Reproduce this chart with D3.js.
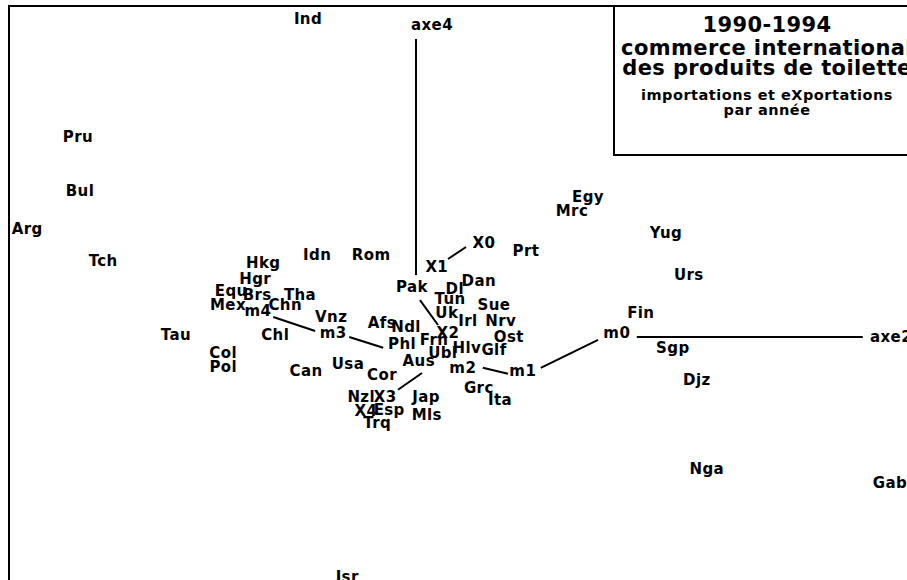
<!DOCTYPE html>
<html lang="fr">
  <head>
    <meta charset="utf-8">
    <title>commerce international des produits de toilette</title>
    <style>
      body { margin: 0; background: #fff; }
      svg text { font-family: "DejaVu Sans", sans-serif; font-weight: bold; fill: #000; }
    </style>
  </head>
  <body>
      <svg></svg>
      <script src="https://d3js.org/d3.v7.min.js"></script>
      <script type="text/javascript">
        // labels of the plane (axe2 x axe4), coordinates
        var countries = ["Ind","Pru","Bul","Arg","Tch","Hkg","Hgr","Equ","Brs","Mex","Chn","Tha","Tau","Chl",
                         "Col","Pol","Can","Idn","Rom","Vnz","Afs","Ndl","Phl","Pak","Prt","Egy","Mrc","Dl","Dan",
                         "Tun","Sue","Uk","Irl","Nrv","Frn","Ost","Ubl","Hlv","Glf","Aus","Usa","Cor","Grc","Ita",
                         "Nzl","Jap","Esp","Mls","Trq","Yug","Urs","Fin","Sgp","Djz","Nga","Gab","Isr"];
        var countryX = [-27,-84.5,-84,-97.2,-78.2,-38.2,-40.2,-46.2,-39.7,-47,-32.7,-29,-60,-35.2,
                        -48.2,-48.2,-27.5,-24.7,-11.2,-21.2,-8.5,-2.5,-3.5,-1,27.5,43,39,9.7,15.7,
                        8.5,19.5,7.7,13,21.2,4.5,23.2,6.7,12.7,19.5,0.7,-17,-8.5,15.7,21,
                        -13.7,2.5,-6.7,2.7,-9.7,62.5,68.2,56.2,64.2,70.2,72.7,118.5,-17.2];
        var countryY = [79.5,50,36.5,27.2,19.2,18.5,14.7,11.7,10.7,8,8,10.7,0.7,0.7,
                        -4,-7.5,-8.5,20.7,20.7,5,3.7,2.7,-1.7,12.5,21.7,35.2,31.7,12,14,
                        9.5,8,6,4.2,4.2,-0.7,0,-4,-2.7,-3.2,-6,-6.7,-9.5,-12.7,-15.7,
                        -15,-15,-18.2,-19.5,-21.5,26,15.5,6.2,-2.7,-10.7,-33,-36.5,-60];

        // yearly points: imports (m) and exports (X)
        var years = ["m0","m1","m2","m3","m4","X0","X1","X2","X3","X4"];
        var yearX = [50.2,26.7,11.7,-20.7,-39.5,17,5.2,8,-7.7,-12.5];
        var yearY = [1,-8.5,-7.7,1,6.7,23.7,17.5,1,-15,-18.5];

        // visible trajectory pieces [x1, y1, x2, y2]
        var trajectory = [
          [45.5,-0.7,31.2,-7.7],
          [23,-9.2,16.7,-7.7],
          [-8.2,-2.7,-16.7,0],
          [-25.2,1.5,-35.7,5],
          [12.5,22.5,8,19.5],
          [1,9.2,5.5,3],
          [1.5,-9,-4.5,-13.2]
        ];

        // axes
        var axisNames = ["axe2","axe4"];
        var axisLines = [[55.2,0,111.7,0],[0,74.5,0,15.5]];
        var axisLabelX = [113.5,4];
        var axisLabelY = [0,78.2];

        var titleLines = ["1990-1994","commerce international","des produits de toilette",
                          "importations et eXportations","par année"];

        var width = 907, height = 580;
        var svg = d3.select("svg")
              .attr("width", width)
              .attr("height", height);

        var x = d3.scaleLinear().domain([-100, 100]).range([16, 816]);
        var y = d3.scaleLinear().domain([-100, 100]).range([737, -63]);

        // frame
        svg.append("line").attr("x1", 8).attr("y1", 6).attr("x2", width).attr("y2", 6)
           .style("stroke", "black").style("stroke-width", 2);
        svg.append("line").attr("x1", 9).attr("y1", 6).attr("x2", 9).attr("y2", height)
           .style("stroke", "black").style("stroke-width", 2);

        var segs = axisLines.concat(trajectory);
        svg.selectAll("line.seg")
           .data(segs)
           .enter()
           .append("line")
           .attr("class", "seg")
           .attr("x1", function(d){return x(d[0]);})
           .attr("y1", function(d){return y(d[1]);})
           .attr("x2", function(d){return x(d[2]);})
           .attr("y2", function(d){return y(d[3]);})
           .style("stroke", "black")
           .style("stroke-width", 2);

        var labels = countries.map(function(n, i){ return {name: n, x: countryX[i], y: countryY[i]}; })
            .concat(years.map(function(n, i){ return {name: n, x: yearX[i], y: yearY[i]}; }));

        svg.selectAll("text.lab")
           .data(labels)
           .enter()
           .append("text")
           .attr("class", "lab")
           .attr("x", function(d){return x(d.x);})
           .attr("y", function(d){return y(d.y);})
           .attr("dy", "0.36em")
           .attr("text-anchor", "middle")
           .style("font-size", "15px")
           .style("letter-spacing", "0.4px")
           .text(function(d){return d.name;});

        svg.selectAll("text.axe")
           .data(axisNames)
           .enter()
           .append("text")
           .attr("class", "axe")
           .attr("x", function(d, i){return x(axisLabelX[i]);})
           .attr("y", function(d, i){return y(axisLabelY[i]);})
           .attr("dy", "0.36em")
           .attr("text-anchor", function(d, i){return i == 0 ? "start" : "middle";})
           .style("font-size", "15px")
           .style("letter-spacing", "0.4px")
           .text(function(d){return d;});

        // title box
        var box = svg.append("g");
        box.append("rect").attr("x", 614).attr("y", 6).attr("width", 310).attr("height", 149)
           .style("fill", "white").style("stroke", "black").style("stroke-width", 2);
        var tSize = [21, 21, 21, 14.5, 14.5];
        var tBase = [32, 55, 75, 100, 115];
        box.selectAll("text")
           .data(titleLines)
           .enter()
           .append("text")
           .attr("x", 767)
           .attr("y", function(d, i){return tBase[i];})
           .attr("text-anchor", "middle")
           .style("font-size", function(d, i){return tSize[i] + "px";})
           .style("letter-spacing", function(d, i){return i < 3 ? "0.4px" : "0.5px";})
           .text(function(d){return d;});
      </script>
  </body>
</html>
